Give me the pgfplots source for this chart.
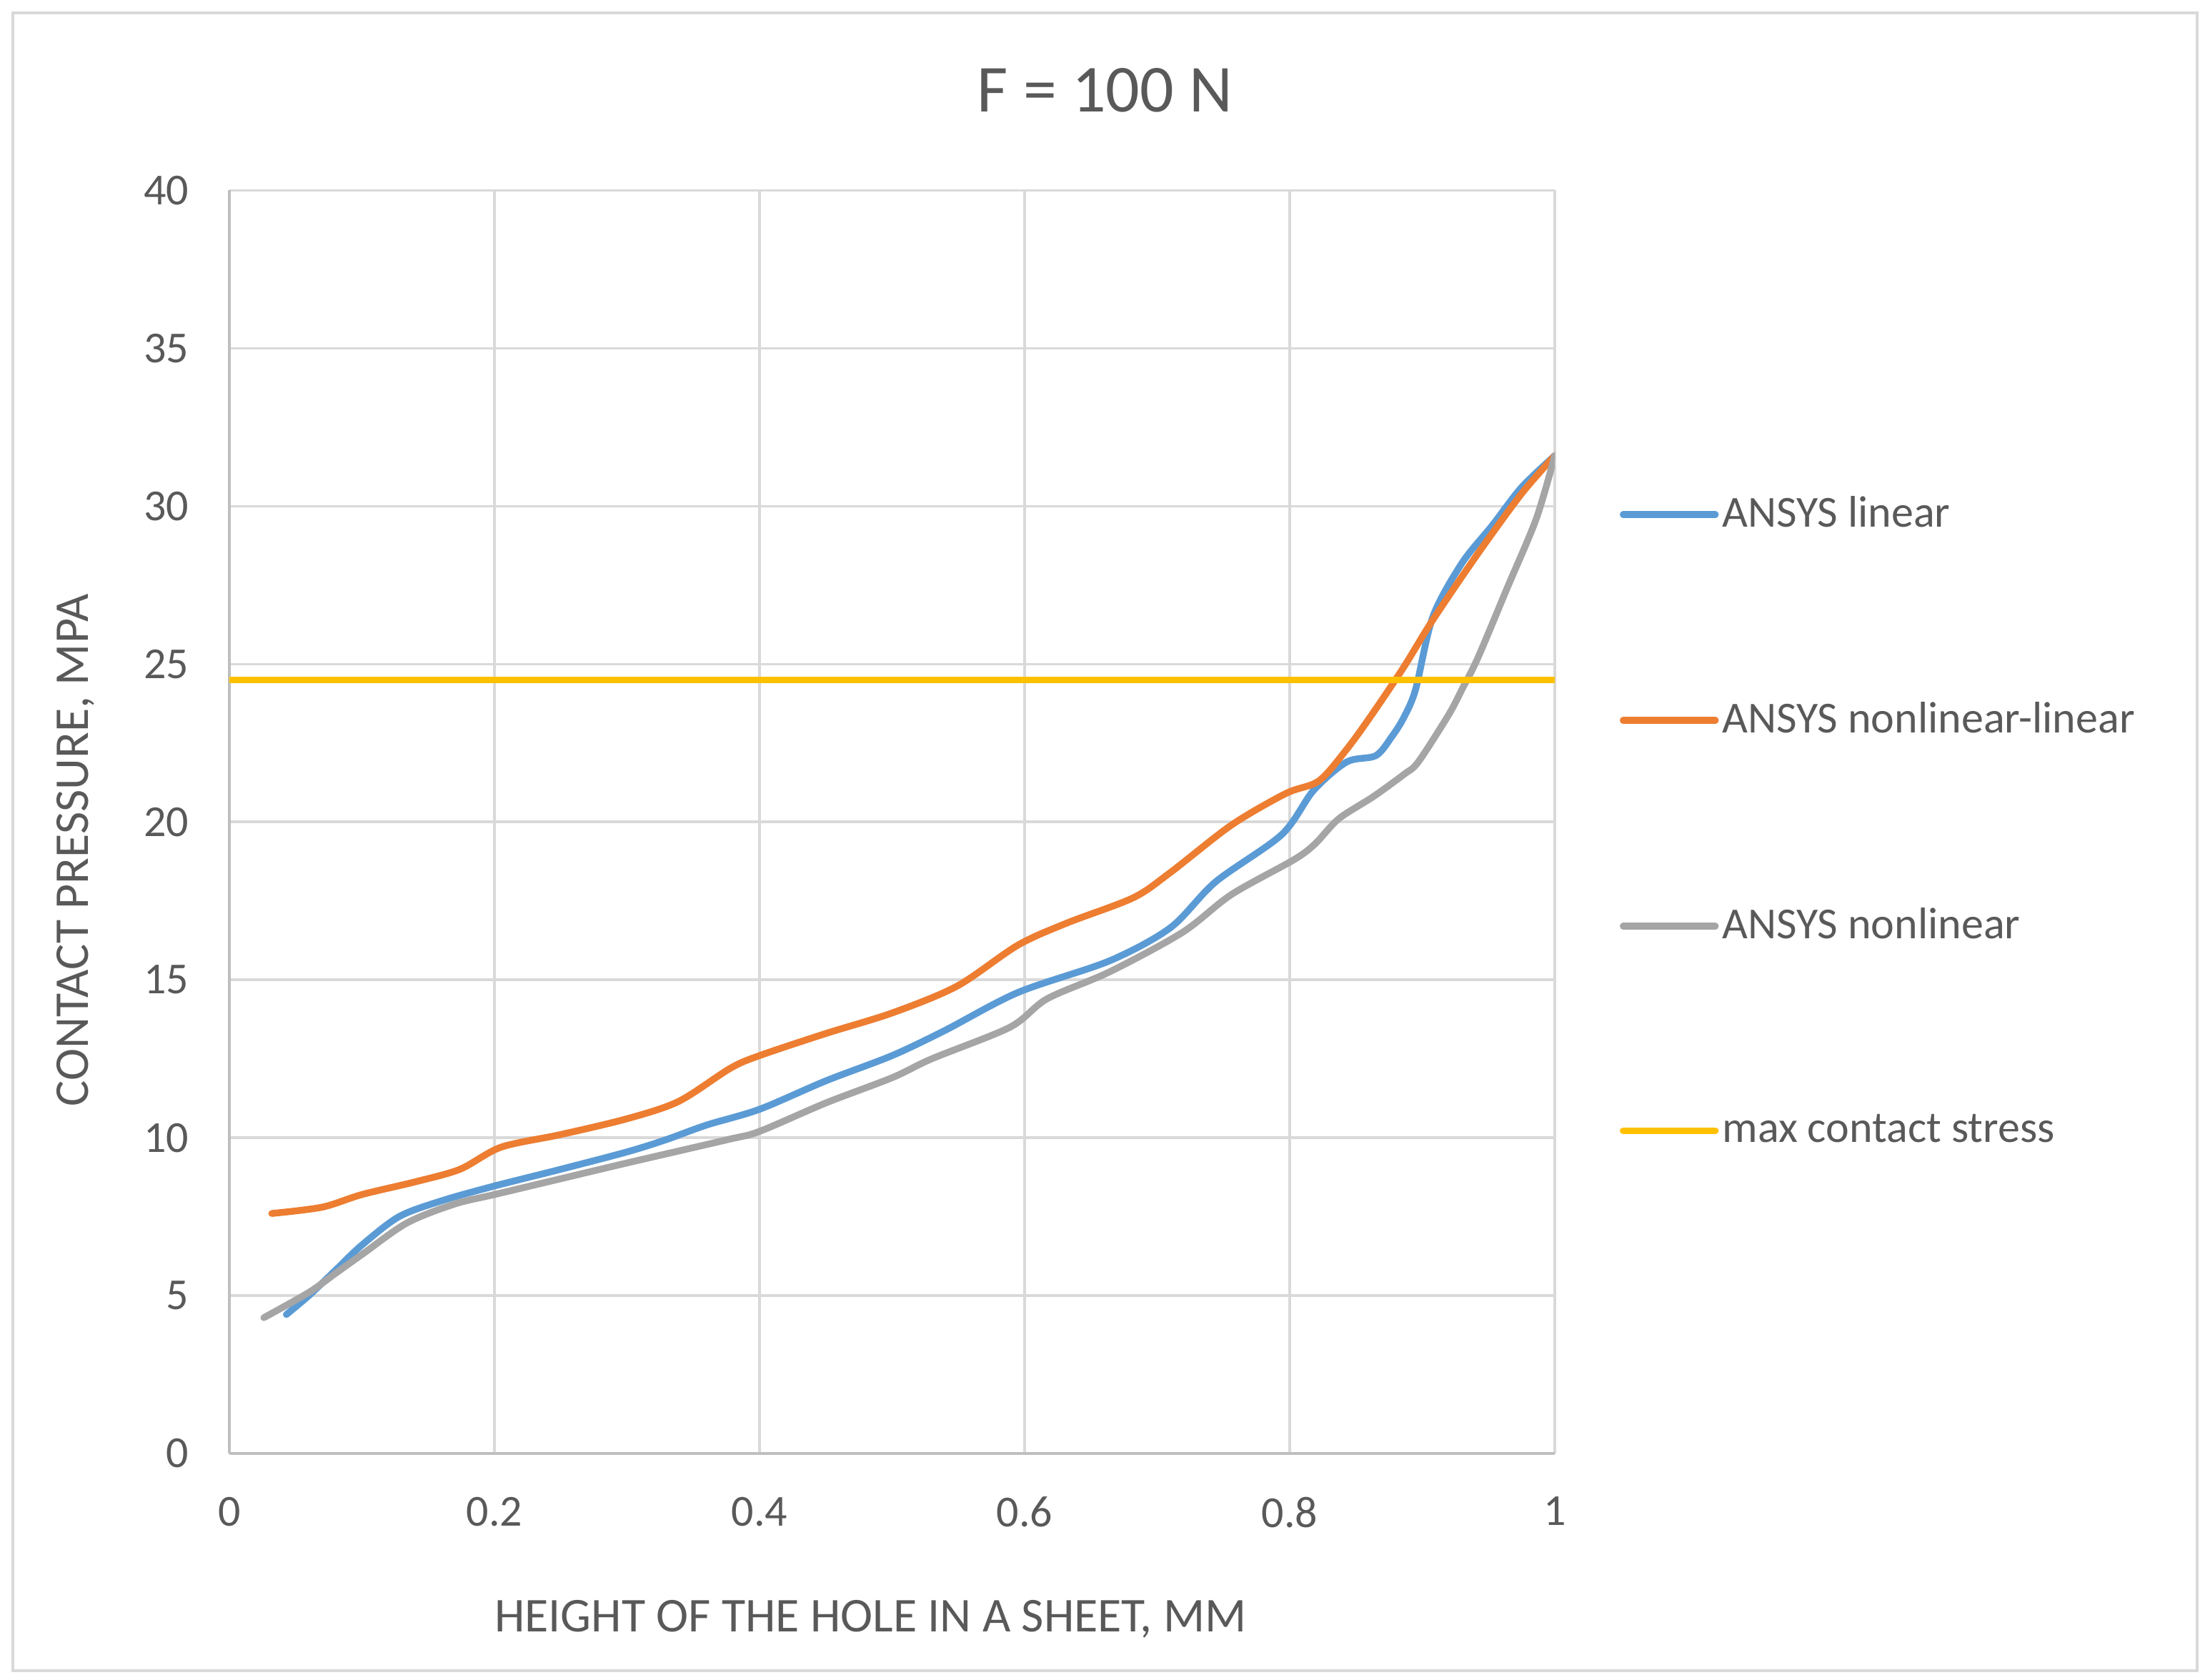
\documentclass[border=0pt]{standalone}
\usepackage{pgfplots}
\pgfplotsset{compat=1.18}
\usepackage{fontspec}
\setmainfont{Carlito}
\definecolor{cblue}{HTML}{5B9BD5}
\definecolor{corange}{HTML}{ED7D31}
\definecolor{cgray}{HTML}{A5A5A5}
\definecolor{cyellow}{HTML}{FFC000}
\definecolor{ctext}{HTML}{595959}
\definecolor{cgrid}{HTML}{D9D9D9}
\definecolor{caxis}{HTML}{BFBFBF}
\begin{document}
\begin{tikzpicture}
\begin{axis}[
  at={(0,0)}, anchor=south west,
  scale only axis, width=371pt, height=353.5pt,
  xmin=0, xmax=1, ymin=0, ymax=40,
  xtick={0,0.2,0.4,0.6,0.8,1},
  ytick={0,5,10,15,20,25,30,35,40},
  grid=major,
  major grid style={color=cgrid, line width=0.7pt},
  axis x line*=bottom, axis y line*=left,
  axis line style={color=caxis, line width=0.7pt, -},
  tick style={draw=none},
  /pgf/number format/assume math mode=true,
  ticklabel style={font=\fontsize{12.4}{14}\selectfont, text=ctext},
  yticklabel style={anchor=east, inner sep=0pt, xshift=-11.2pt},
  xticklabel style={anchor=north, inner sep=0pt, yshift=-12pt},
  xlabel={HEIGHT OF THE HOLE IN A SHEET, MM},
  xlabel style={at={(0.4838,-0.1414)}, anchor=base, font=\fontsize{13.6}{16}\selectfont, text=ctext, inner sep=0pt},
  ylabel={CONTACT PRESSURE, MPA},
  ylabel style={at={(-0.1067,0.4775)}, anchor=base, font=\fontsize{13.6}{16}\selectfont, text=ctext, inner sep=0pt},
  legend image code/.code={\draw[#1] (0pt,0pt) -- (25.8pt,0pt);},
  legend cell align=left,
  legend style={at={(1.0485,0.5)}, anchor=west, draw=none, fill=none, inner sep=0pt,
    row sep=47.5pt, font=\fontsize{12.4}{14}\selectfont, text=ctext,
    nodes={inner xsep=1pt, inner ysep=0pt}},
  every axis plot/.append style={line width=1.9pt, line cap=round, line join=round},
]
\addplot[cblue, smooth, tension=0.5] coordinates {
(0.043,4.4) (0.06,5.0) (0.08,5.8) (0.10,6.6) (0.128,7.5) (0.16,8.0) (0.199,8.46)
(0.25,9.0) (0.30,9.55) (0.329,9.93) (0.36,10.4) (0.40,10.9) (0.45,11.8) (0.50,12.6)
(0.54,13.4) (0.595,14.6) (0.664,15.6) (0.71,16.65) (0.744,18.1) (0.794,19.6)
(0.818,21.0) (0.843,21.9) (0.865,22.1) (0.877,22.7) (0.886,23.3) (0.895,24.2)
(0.908,26.5) (0.93,28.2) (0.953,29.4) (0.975,30.6) (1.0,31.6)};
\addlegendentry{ANSYS linear}
\addplot[corange, smooth, tension=0.5] coordinates {
(0.032,7.6) (0.07,7.8) (0.10,8.2) (0.14,8.6) (0.174,9.0) (0.205,9.7) (0.25,10.1)
(0.30,10.6) (0.339,11.15) (0.378,12.2) (0.40,12.6) (0.45,13.3) (0.50,13.95)
(0.549,14.8) (0.595,16.1) (0.632,16.8) (0.682,17.6) (0.71,18.4) (0.756,19.9)
(0.797,20.9) (0.822,21.3) (0.843,22.3) (0.862,23.4) (0.886,24.9) (0.908,26.4)
(0.942,28.5) (0.975,30.4) (1.0,31.6)};
\addlegendentry{ANSYS nonlinear-linear}
\addplot[cgray, smooth, tension=0.5] coordinates {
(0.026,4.3) (0.06,5.1) (0.08,5.7) (0.10,6.3) (0.134,7.3) (0.17,7.9) (0.20,8.2)
(0.25,8.7) (0.30,9.2) (0.375,9.93) (0.40,10.2) (0.45,11.1) (0.50,11.9) (0.53,12.5)
(0.589,13.5) (0.617,14.4) (0.664,15.25) (0.719,16.5) (0.756,17.7) (0.803,18.8)
(0.819,19.3) (0.837,20.1) (0.863,20.8) (0.886,21.5) (0.897,21.9) (0.92,23.4)
(0.93,24.2) (0.942,25.2) (0.964,27.4) (0.986,29.6) (1.0,31.6)};
\addlegendentry{ANSYS nonlinear}
\addplot[cyellow] coordinates {(0,24.5) (1,24.5)};
\addlegendentry{max contact stress}
\end{axis}
\node[anchor=base, inner sep=0pt, text=ctext, font=\fontsize{18.8}{22}\selectfont] at (245.1pt,375.4pt) {F = 100 N};
\draw[cgrid, line width=0.7pt] (-60.6pt,-60.8pt) rectangle (550.8pt,403.2pt);
\pgfresetboundingbox
\path[use as bounding box] (-64.2pt,-63.4pt) rectangle (554.4pt,406.8pt);
\end{tikzpicture}
\end{document}
